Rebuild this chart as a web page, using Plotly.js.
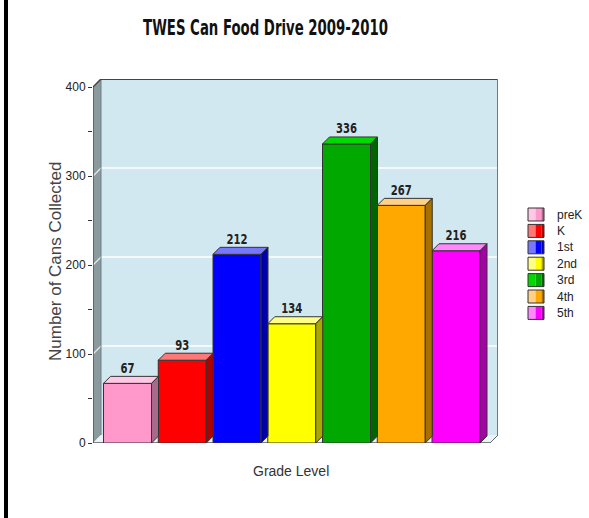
<!DOCTYPE html>
<html><head><meta charset="utf-8">
<script src="https://cdn.plot.ly/plotly-3.0.1.min.js"></script>
<style>html,body{margin:0;padding:0;background:#fff}#chart{width:589px;height:518px}</style>
</head><body><div id="chart"></div>
<script>
const categories = ['preK','K','1st','2nd','3rd','4th','5th'];
const cans = [67, 93, 212, 134, 336, 267, 216];
const frontColors = ['#FF99CC','#FF0000','#0000FF','#FFFF00','#00A800','#FFA800','#FF00FF'];
const topColors = ['#FFC8E4','#FF7878','#7878FF','#FFFF88','#00D800','#FFD088','#FF88FF'];
const sideColors = ['#A86A8A','#B00000','#0000A8','#A8A800','#006400','#A87000','#A800A8'];
const yTickVals = [0, 50, 100, 150, 200, 250, 300, 350, 400];
const yTickText = ['0', '', '100', '', '200', '', '300', '', '400'];
const gridVals = [100, 200, 300];
const titleText = 'TWES Can Food Drive 2009-2010';
const xTitle = 'Grade Level';
const yTitle = 'Number of Cans Collected';

// geometry (pixels)
const W = 589, H = 518;
const L = 93, R = 498, T = 79, B = 443;
const frontRight = 490;
const depthWall = 8, depthBar = 7;
const slotPx = 54.75, firstCenterPx = 127.5, barPx = 48;
const yMax = 400;
const pxPerVal = (B - 87) / yMax;
const yTop = (B - T) / pxPerVal;
const xMin = -(firstCenterPx - L) / slotPx;
const xMax = xMin + (R - L) / slotPx;
const xFrontMax = xMin + (frontRight - L) / slotPx;
const dxW = depthWall / slotPx, dyW = depthWall / pxPerVal;
const dxB = depthBar / slotPx, dyB = depthBar / pxPerVal;
const bw = barPx / slotPx;
const px2x = p => (p - L) / (R - L);
const py2y = p => (B - p) / (B - T);

const NARROW = 'Liberation Sans Narrow, Arial Narrow, DejaVu Sans Condensed, sans-serif';
const SANS = 'Liberation Sans, Arial, sans-serif';
const EDGE = '#333333';

const idx = categories.map((c, i) => i);
const data = [];
data.push({
  type: 'bar', x: idx, y: cans, width: bw, name: 'Cans',
  marker: {color: frontColors, line: {color: EDGE, width: 1}},
  showlegend: false, hoverinfo: 'y'
});
categories.forEach((c, i) => {
  const v = cans[i], l = i - bw / 2, r = i + bw / 2;
  data.push({
    type: 'scatter', mode: 'lines', fill: 'toself', fillcolor: topColors[i],
    x: [l, r, r + dxB, l + dxB, l], y: [v, v, v + dyB, v + dyB, v],
    line: {color: EDGE, width: 1}, showlegend: false, hoverinfo: 'skip'
  });
  data.push({
    type: 'scatter', mode: 'lines', fill: 'toself', fillcolor: sideColors[i],
    x: [r, r + dxB, r + dxB, r, r], y: [0, dyB, v + dyB, v, 0],
    line: {color: EDGE, width: 1}, showlegend: false, hoverinfo: 'skip'
  });
});
data.push({
  type: 'scatter', mode: 'text', x: idx, y: cans.map(v => v + dyB),
  text: cans.map(String), textposition: 'top center', cliponaxis: false,
  textfont: {family: NARROW, size: 14, color: '#222222', weight: 'bold'},
  showlegend: false, hoverinfo: 'skip'
});

const shapes = [];
// back wall
shapes.push({type: 'rect', layer: 'below', xref: 'x', yref: 'y', x0: xMin + dxW, x1: xMax, y0: dyW, y1: yTop,
  fillcolor: '#D2E8F0', line: {width: 0}});
// side wall
shapes.push({type: 'path', layer: 'below', xref: 'x', yref: 'y',
  path: `M${xMin},0 L${xMin + dxW},${dyW} L${xMin + dxW},${yTop} L${xMin},${yMax} Z`,
  fillcolor: '#8A9A9E', line: {width: 0}});
// floor
shapes.push({type: 'path', layer: 'below', xref: 'x', yref: 'y',
  path: `M${xMin},0 L${xFrontMax},0 L${xMax},${dyW} L${xMin + dxW},${dyW} Z`,
  fillcolor: '#EAF4F8', line: {width: 0}});
// grid lines on back and side walls
gridVals.forEach(g => {
  shapes.push({type: 'line', layer: 'below', xref: 'x', yref: 'y', x0: xMin + dxW, x1: xMax, y0: g + dyW, y1: g + dyW,
    line: {color: '#FFFFFF', width: 1.5}});
  shapes.push({type: 'line', layer: 'below', xref: 'x', yref: 'y', x0: xMin, x1: xMin + dxW, y0: g, y1: g + dyW,
    line: {color: '#E8EEF0', width: 1.2}});
});
// edges
const edge = (x0, y0, x1, y1, color, width) => shapes.push({type: 'line', layer: 'below', xref: 'x', yref: 'y',
  x0, y0, x1, y1, line: {color, width}});
edge(xMin + dxW, dyW, xMin + dxW, yTop, '#6E7E82', 1);
edge(xMin + dxW, yTop, xMax, yTop, '#444444', 2);
edge(xMax, dyW, xMax, yTop, '#777777', 2);
edge(xMin, yMax, xMin + dxW, yTop, '#444444', 1.5);
edge(xMin, 0, xMin, yMax, '#555555', 1.5);
edge(xMin, 0, xFrontMax, 0, '#555555', 1.5);
edge(xFrontMax, 0, xMax, dyW, '#666666', 1);
// left page border
shapes.push({type: 'rect', xref: 'paper', yref: 'paper', x0: px2x(4), x1: px2x(8), y0: py2y(H), y1: py2y(0),
  fillcolor: '#000000', line: {width: 0}});

// legend
const annotations = [];
const legTop = 214.5, legStep = 16.4, boxH = 13;
categories.forEach((c, i) => {
  const cy = legTop + legStep * i;
  const y0 = py2y(cy + boxH / 2), y1 = py2y(cy - boxH / 2);
  shapes.push({type: 'rect', xref: 'paper', yref: 'paper', x0: px2x(528), x1: px2x(535.5), y0, y1,
    fillcolor: topColors[i], line: {width: 0}});
  shapes.push({type: 'rect', xref: 'paper', yref: 'paper', x0: px2x(535.5), x1: px2x(541.5), y0, y1,
    fillcolor: frontColors[i], line: {width: 0}});
  shapes.push({type: 'rect', xref: 'paper', yref: 'paper', x0: px2x(541.5), x1: px2x(544), y0, y1,
    fillcolor: sideColors[i], line: {width: 0}});
  shapes.push({type: 'rect', xref: 'paper', yref: 'paper', x0: px2x(528), x1: px2x(544), y0, y1,
    fillcolor: 'rgba(0,0,0,0)', line: {color: EDGE, width: 1}});
  annotations.push({xref: 'paper', yref: 'paper', x: px2x(555), y: py2y(cy), xanchor: 'left', yanchor: 'middle',
    text: c, showarrow: false, font: {family: SANS, size: 12, color: '#222222'}});
});
annotations.push({xref: 'paper', yref: 'paper', x: px2x(291), y: py2y(470.5), xanchor: 'center', yanchor: 'middle',
  text: xTitle, showarrow: false, font: {family: SANS, size: 14, color: '#333333'}});
annotations.push({xref: 'paper', yref: 'paper', x: px2x(55), y: py2y(262), xanchor: 'center', yanchor: 'middle',
  textangle: -90, text: yTitle, showarrow: false, font: {family: SANS, size: 17, color: '#444444'}});

const layout = {
  width: W, height: H,
  margin: {l: L, r: W - R, t: T, b: H - B, pad: 0},
  paper_bgcolor: '#FFFFFF', plot_bgcolor: 'rgba(0,0,0,0)',
  title: {text: titleText, x: 265.5 / W, xanchor: 'center', y: 1 - 27.5 / H, yanchor: 'middle', yref: 'container',
    font: {family: NARROW, size: 22, color: '#111111', weight: 'bold'}},
  xaxis: {range: [xMin, xMax], showgrid: false, zeroline: false, showticklabels: false, ticks: '', showline: false, fixedrange: true},
  yaxis: {range: [0, yTop], tickvals: yTickVals, ticktext: yTickText, ticks: 'outside', ticklen: 4, tickwidth: 1,
    tickcolor: '#333333', showgrid: false, zeroline: false, showline: false,
    tickfont: {family: SANS, size: 12, color: '#222222'}, fixedrange: true},
  shapes, annotations, showlegend: false, bargap: 0
};

function squeeze(el, k, cx) {
  const bb = el.getBBox();
  const c = (cx === undefined) ? bb.x + bb.width / 2 : cx;
  el.setAttribute('transform', `translate(${c},0) scale(${k},1) translate(${-(bb.x + bb.width / 2)},0)`);
  return bb;
}

Plotly.newPlot('chart', data, layout, {displayModeBar: false, staticPlot: true}).then(gd => {
  const t = gd.querySelector('.gtitle');
  if (t) {
    const bb = t.getBBox();
    squeeze(t, 245 / bb.width, 265.5);
  }
  const traces = gd.querySelectorAll('.scatterlayer .trace');
  const last = traces[traces.length - 1];
  if (last) last.querySelectorAll('.textpoint text').forEach(el => squeeze(el, 0.8));
});
</script>
</body></html>
